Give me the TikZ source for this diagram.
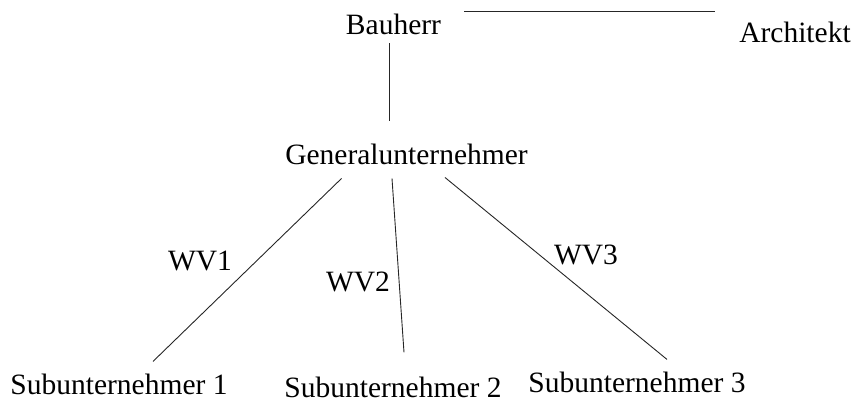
\documentclass[tikz,border=0pt]{standalone}
\usepackage{fontspec}
\setmainfont{Liberation Serif}
\usepackage{tikz}
\usetikzlibrary{positioning}

\begin{document}
\begin{tikzpicture}[
    x=1pt, y=1pt,
    mylabel/.style={
    anchor=base,
    inner sep=0pt,
    font=\fontsize{29.5}{35}\selectfont},
    myline/.style={line width=0.9pt, draw=black!85}
    ]
    \useasboundingbox (0,0) rectangle (855,-406);

    \node[mylabel] (bh) at (393.5,-35) {Bauherr};
    \node[mylabel] (ar) at (795,-43) {Architekt};
    \node[mylabel] (gu) at (406.5,-165) {Generalunternehmer};

    \node[mylabel] (s1) at (119,-395) {Subunternehmer 1};
    \node[mylabel] (s2) at (393,-398) {Subunternehmer 2};
    \node[mylabel] (s3) at (637,-392) {Subunternehmer 3};

    \node[mylabel] (w1) at (200,-271) {WV1};
    \node[mylabel] (w2) at (358,-292) {WV2};
    \node[mylabel] (w3) at (586,-265) {WV3};

    \draw[myline] ([xshift=23pt,yshift=2.9pt]bh.north east) -- ([xshift=-24pt,yshift=10.9pt]ar.north west);
    \draw[myline] ([xshift=-4.5pt,yshift=-8pt]bh.south) -- ([xshift=-17.5pt,yshift=22.9pt]gu.north);

    \draw[myline] ([xshift=-65pt,yshift=-13pt]gu.south) -- ([xshift=34pt,yshift=12.9pt]s1.north);
    \draw[myline] ([xshift=-14.5pt,yshift=-13pt]gu.south) -- ([xshift=11pt,yshift=24.9pt]s2.north);
    \draw[myline] ([xshift=38.5pt,yshift=-12pt]gu.south) -- ([xshift=30pt,yshift=11.9pt]s3.north);
\end{tikzpicture}
\end{document}
